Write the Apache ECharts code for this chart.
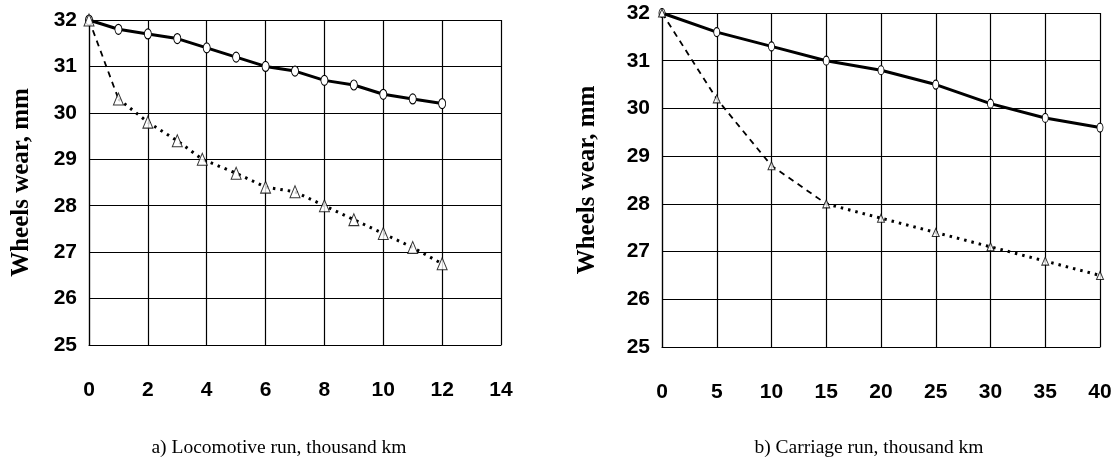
<!DOCTYPE html>
<html>
<head>
<meta charset="utf-8">
<script src="https://cdn.jsdelivr.net/npm/echarts@6.0.0/dist/echarts.min.js"></script>
<style>
  html, body { margin: 0; padding: 0; background: #fff; }
  #main { width: 1118px; height: 459px; }
</style>
</head>
<body>
<div id="main"></div>
<script>
// a) locomotive
var locoRun = [0, 1, 2, 3, 4, 5, 6, 7, 8, 9, 10, 11, 12];
var locoWearA = [32, 31.8, 31.7, 31.6, 31.4, 31.2, 31.0, 30.9, 30.7, 30.6, 30.4, 30.3, 30.2];
var locoRunB = [0, 1, 2, 3, 3.85, 5, 6, 7, 8, 9, 10, 11, 12];
var locoWearB = [32, 30.3, 29.8, 29.4, 29.0, 28.7, 28.4, 28.3, 28.0, 27.7, 27.4, 27.1, 26.75];
// b) carriage
var carRun = [0, 5, 10, 15, 20, 25, 30, 35, 40];
var carWearA = [32, 31.6, 31.3, 31.0, 30.8, 30.5, 30.1, 29.8, 29.6];
var carWearB = [32, 30.2, 28.8, 28.0, 27.7, 27.4, 27.1, 26.8, 26.5];
// ticks
var locoTicks = [0, 2, 4, 6, 8, 10, 12, 14];
var carTicks = [0, 5, 10, 15, 20, 25, 30, 35, 40];
var wearTicks = [25, 26, 27, 28, 29, 30, 31, 32];

var labelFont = "'Liberation Sans', Arial, sans-serif";
var serifFont = "'Liberation Serif', 'Times New Roman', serif";

function pairs(xs, ys) {
  return xs.map(function (x, i) { return [x, ys[i]]; });
}

function xAxisOf(ticks, idx) {
  return {
    type: 'value',
    gridIndex: idx,
    min: ticks[0],
    max: ticks[ticks.length - 1],
    interval: ticks[1] - ticks[0],
    axisLine: { lineStyle: { color: '#000', width: 1.2 } },
    axisTick: { show: false },
    splitLine: { show: true, lineStyle: { color: '#000', width: 1.2 } },
    axisLabel: {
      color: '#000', fontSize: 21, fontWeight: 'bold', fontFamily: labelFont, margin: 35
    }
  };
}

function yAxisOf(idx, gap) {
  return {
    type: 'value',
    gridIndex: idx,
    min: wearTicks[0],
    max: wearTicks[wearTicks.length - 1],
    interval: wearTicks[1] - wearTicks[0],
    name: 'Wheels wear, mm',
    nameLocation: 'middle',
    nameGap: gap,
    nameTextStyle: { color: '#000', fontSize: 25, fontWeight: 'bold', fontFamily: serifFont },
    axisLine: { lineStyle: { color: '#000', width: 1.2 } },
    axisTick: { show: false },
    splitLine: { show: true, lineStyle: { color: '#000', width: 1.2 } },
    axisLabel: {
      color: '#000', fontSize: 21, fontWeight: 'bold', fontFamily: labelFont,
      margin: 12, padding: [8, 0, 0, 0]
    }
  };
}

// solid line with hollow circles
function upperLine(idx, xs, ys, size) {
  return {
    type: 'line',
    xAxisIndex: idx, yAxisIndex: idx,
    data: pairs(xs, ys),
    symbol: 'circle',
    symbolSize: size,
    itemStyle: { color: '#fff', borderColor: '#000', borderWidth: 1 },
    lineStyle: { color: '#000', width: 3 },
    z: 3
  };
}

// dashed start + dotted tail, triangles on top
function lowerLine(idx, xs, ys, cut, triSize) {
  var pts = pairs(xs, ys);
  return [{
    type: 'line',
    xAxisIndex: idx, yAxisIndex: idx,
    data: pts.slice(0, cut + 1),
    symbol: 'none',
    lineStyle: { color: '#000', width: 1.8, type: [6, 5] },
    z: 2
  }, {
    type: 'line',
    xAxisIndex: idx, yAxisIndex: idx,
    data: pts.slice(cut),
    symbol: 'none',
    lineStyle: { color: '#000', width: 3, type: [2.5, 5] },
    z: 2
  }, {
    type: 'scatter',
    xAxisIndex: idx, yAxisIndex: idx,
    data: pts,
    symbol: 'triangle',
    symbolSize: triSize,
    itemStyle: { color: '#fff', borderColor: '#000', borderWidth: 1 },
    z: 4
  }];
}

var option = {
  backgroundColor: '#fff',
  animation: false,
  grid: [
    { left: 89, top: 20, width: 412, height: 325, outerBoundsMode: 'none', containLabel: false },
    { left: 662, top: 13, width: 438, height: 334, outerBoundsMode: 'none', containLabel: false }
  ],
  xAxis: [xAxisOf(locoTicks, 0), xAxisOf(carTicks, 1)],
  yAxis: [yAxisOf(0, 55), yAxisOf(1, 62)],
  graphic: [
    {
      type: 'text', x: 279, y: 448,
      style: {
        text: 'a) Locomotive run, thousand km', fill: '#000',
        font: '19.5px ' + serifFont, align: 'center', verticalAlign: 'middle',
        textAlign: 'center', textVerticalAlign: 'middle'
      }
    },
    {
      type: 'text', x: 869, y: 448,
      style: {
        text: 'b) Carriage run, thousand km', fill: '#000',
        font: '19.5px ' + serifFont, align: 'center', verticalAlign: 'middle',
        textAlign: 'center', textVerticalAlign: 'middle'
      }
    }
  ],
  series: [upperLine(0, locoRun, locoWearA, [7, 10])]
    .concat(lowerLine(0, locoRunB, locoWearB, 1, [10, 12]))
    .concat([upperLine(1, carRun, carWearA, [6, 9])])
    .concat(lowerLine(1, carRun, carWearB, 3, [7, 8]))
};

var chart = echarts.init(document.getElementById('main'), null, { renderer: 'canvas' });
chart.setOption(option);
</script>
</body>
</html>
